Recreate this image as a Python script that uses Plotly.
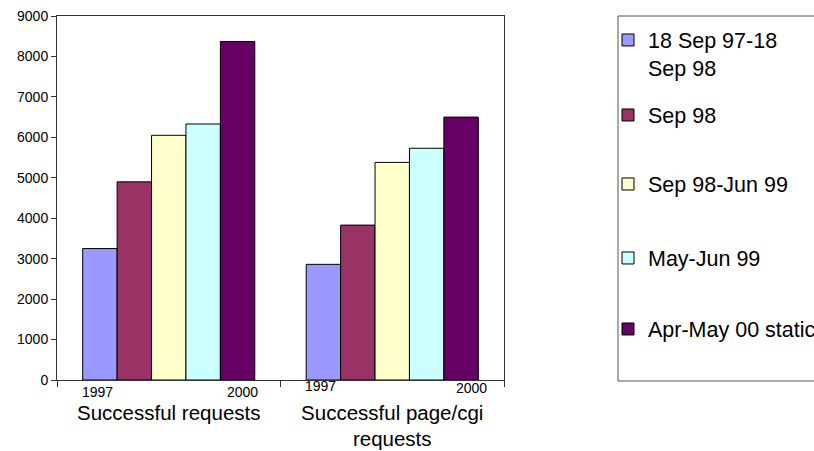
import plotly.graph_objects as go

# ---- data ----
categories = ["Successful requests", "Successful page/cgi<br>requests"]
series_names = ["18 Sep 97-18<br>Sep 98", "Sep 98", "Sep 98-Jun 99", "May-Jun 99", "Apr-May 00 static"]
series_values = [
    [3250, 2860],
    [4900, 3830],
    [6050, 5380],
    [6330, 5730],
    [8370, 6500],
]
year_labels = ["1997", "2000"]
colors = ["#9999FF", "#993366", "#FFFFCC", "#CCFFFF", "#660066"]

FONT = "Liberation Sans, Arial, sans-serif"
W, H = 814, 451
L, T, B = 57, 16, 71
plot_right = 504
paper_w = W - L
plot_h = H - T - B

fig = go.Figure()
legend_centers_px = [54, 115, 184, 258, 329]
legend_left_px = 608
for i, (name, vals, col) in enumerate(zip(series_names, series_values, colors)):
    lname = "legend" if i == 0 else f"legend{i+1}"
    fig.add_trace(go.Bar(
        x=categories, y=vals, name=name,
        marker=dict(color=col, line=dict(color="black", width=1)),
        legend=lname, showlegend=True,
    ))

legends = {}
for i, c in enumerate(legend_centers_px):
    lname = "legend" if i == 0 else f"legend{i+1}"
    legends[lname] = dict(
        x=(legend_left_px - L) / paper_w, xanchor="left",
        y=(H - B - c) / plot_h, yanchor="middle",
        font=dict(family=FONT, size=21.5, color="black"),
        bgcolor="rgba(0,0,0,0)", borderwidth=0, valign="top",
    )

annotations = []
year_pos = [(-0.317, 0.328), (-0.323, 0.355)]
year_y_px = [(392, 392), (386, 388)]
for ci in range(len(categories)):
    for k, lab in enumerate(year_labels):
        annotations.append(dict(
            x=ci + year_pos[ci][k], xref="x",
            y=(H - B - year_y_px[ci][k]) / plot_h, yref="paper",
            text=lab, showarrow=False, xanchor="center", yanchor="middle",
            font=dict(family=FONT, size=14, color="black"),
        ))

fig.update_layout(
    width=W, height=H,
    margin=dict(l=L, r=0, t=T, b=B, autoexpand=False),
    paper_bgcolor="white", plot_bgcolor="white",
    showlegend=True,
    barmode="group", bargap=0.23, bargroupgap=0,
    font=dict(family=FONT, color="black"),
    annotations=annotations,
    shapes=[dict(
        type="rect", xref="paper", yref="paper",
        x0=(618 - L) / paper_w, x1=1.02,
        y0=(H - B - 381) / plot_h, y1=1.0,
        line=dict(color="#555555", width=1), fillcolor="rgba(0,0,0,0)",
    )],
    **legends,
)
fig.update_xaxes(
    domain=[0, (plot_right - L) / paper_w],
    type="category", tickson="boundaries", ticks="outside", ticklen=6,
    tickcolor="#333333", showline=True, linecolor="#333333", linewidth=1,
    mirror=True, showgrid=False, ticklabelstandoff=14,
    tickfont=dict(family=FONT, size=20.5, color="black"),
)
fig.update_yaxes(
    range=[0, 9000], dtick=1000, ticks="outside", ticklen=5,
    tickcolor="#333333", showline=True, linecolor="#333333", linewidth=1,
    mirror=True, showgrid=False, zeroline=False,
    tickfont=dict(family=FONT, size=14, color="black"),
)
fig.write_html(
    "out.html",
    config={"displayModeBar": False},
    post_script="document.body.style.margin='0px';document.body.style.overflow='hidden';",
)
